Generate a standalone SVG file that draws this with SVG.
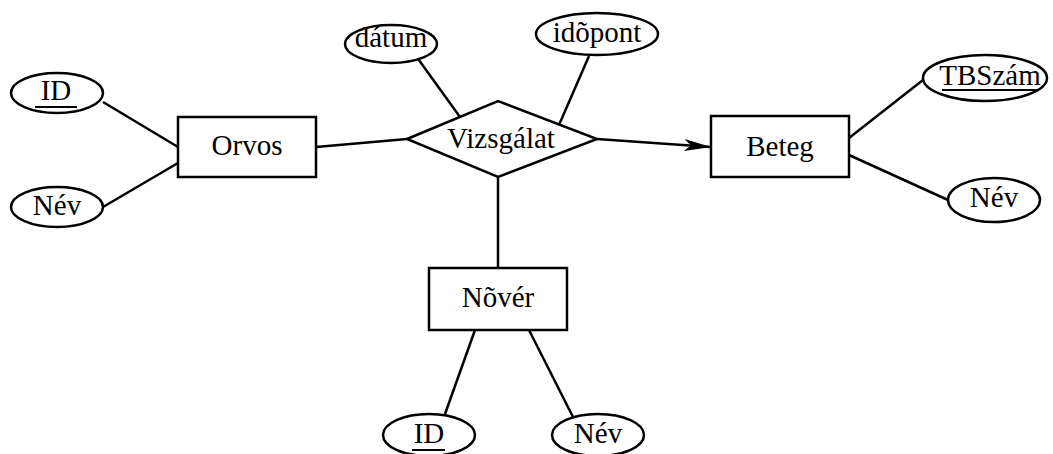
<svg xmlns="http://www.w3.org/2000/svg" width="1053" height="454" viewBox="0 0 1053 454">
<style>
.shape{fill:#fff;stroke:#000;stroke-width:2.5}
text{font-family:'Liberation Serif',serif;font-size:29px;fill:#000;text-anchor:middle}
.conn{stroke:#000;stroke-width:2.5;fill:none}
.ul{stroke:#000;stroke-width:2}
</style>
<defs>
<marker id="arr" markerUnits="userSpaceOnUse" viewBox="0 0 28 14" markerWidth="28" markerHeight="14" refX="27" refY="7" orient="auto">
<path d="M0,1 L27,7 L0,13 L7,7 z" fill="#000"/>
</marker>
</defs>
<g id="connectors">
<line class="conn" x1="103" y1="102" x2="178" y2="147"/>
<line class="conn" x1="103" y1="207" x2="178" y2="163"/>
<line class="conn" x1="316" y1="147" x2="407" y2="139"/>
<line class="conn" x1="597" y1="139" x2="711" y2="147" marker-end="url(#arr)"/>
<line class="conn" x1="416" y1="56" x2="460" y2="117"/>
<line class="conn" x1="589" y1="56" x2="559" y2="125"/>
<line class="conn" x1="923" y1="80" x2="849" y2="138"/>
<line class="conn" x1="849" y1="155" x2="948" y2="200"/>
<line class="conn" x1="498" y1="177" x2="498" y2="268"/>
<line class="conn" x1="475" y1="330" x2="445" y2="414"/>
<line class="conn" x1="529" y1="330" x2="573" y2="417"/>
</g>
<g id="orvos"><rect class="shape" x="178" y="117" width="138" height="60"/><text x="247" y="155">Orvos</text></g>
<g id="orvos-id"><ellipse class="shape" cx="57" cy="93" rx="46" ry="20"/><text x="56" y="100">ID</text><line class="ul" x1="35" y1="107" x2="77" y2="107"/></g>
<g id="orvos-nev"><ellipse class="shape" cx="57" cy="207" rx="46" ry="20"/><text x="57" y="215">Név</text></g>
<g id="vizsgalat"><polygon class="shape" points="407,139 498,101 597,139 498,177"/><text x="501" y="148">Vizsgálat</text></g>
<g id="datum"><ellipse class="shape" cx="391" cy="44" rx="46" ry="19"/><text x="391" y="47">dátum</text></g>
<g id="idopont"><ellipse class="shape" cx="597" cy="34" rx="61" ry="21"/><text x="597" y="42">idõpont</text></g>
<g id="beteg"><rect class="shape" x="711" y="116" width="138" height="61"/><text x="780" y="156">Beteg</text></g>
<g id="beteg-tbszam"><ellipse class="shape" cx="985" cy="78" rx="62" ry="23"/><text x="990" y="85">TBSzám</text><line class="ul" x1="942" y1="90" x2="1038" y2="90"/></g>
<g id="beteg-nev"><ellipse class="shape" cx="994" cy="200" rx="46" ry="22"/><text x="994" y="207">Név</text></g>
<g id="nover"><rect class="shape" x="429" y="268" width="138" height="62"/><text x="498" y="307">Nõvér</text></g>
<g id="nover-id"><ellipse class="shape" cx="429" cy="435" rx="46" ry="21"/><text x="429" y="443">ID</text><line class="ul" x1="412" y1="450" x2="445" y2="450"/></g>
<g id="nover-nev"><ellipse class="shape" cx="598" cy="435" rx="46" ry="21"/><text x="598" y="443">Név</text></g>
</svg>
